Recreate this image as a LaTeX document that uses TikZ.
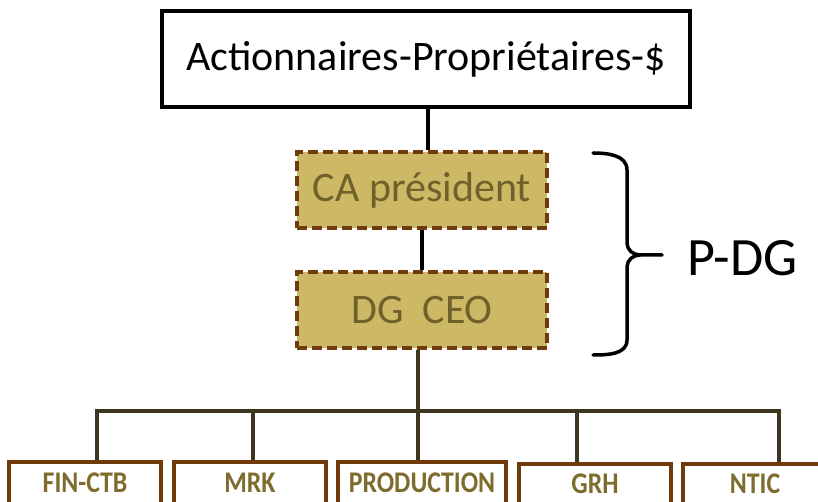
\documentclass[tikz,border=0pt]{standalone}
\usepackage{fontspec}
\setmainfont{Carlito}
\definecolor{goldfill}{RGB}{205,184,102}
\definecolor{brownedge}{RGB}{112,58,10}
\definecolor{olivetext}{RGB}{112,97,42}
\definecolor{labeltext}{RGB}{125,108,45}
\definecolor{busline}{RGB}{62,54,30}
\newcommand{\narrowlabel}[1]{\scalebox{0.86}[1]{#1}}
\tikzset{
  topbox/.style={draw=black, line width=4pt, fill=white, inner sep=0pt,
    minimum width=528pt, minimum height=96pt, font=\fontsize{42}{48}\selectfont},
  goldbox/.style={draw=brownedge, fill=goldfill, line width=3.5pt, dash pattern=on 10pt off 5pt,
    inner sep=0pt, minimum width=250pt, minimum height=76pt, text=olivetext,
    font=\fontsize{42}{48}\selectfont},
  deptbox/.style={draw=brownedge, fill=white, line width=4pt, inner sep=0pt,
    text=labeltext, font=\fontsize{30}{34}\selectfont\bfseries},
  blackline/.style={draw=black, line width=3.5pt},
  busstyle/.style={draw=busline, line width=3.5pt},
  bracestyle/.style={draw=black, line width=3.5pt, line cap=round, line join=round}
}
\begin{document}
\begin{tikzpicture}[x=1pt,y=-1pt]
\useasboundingbox (0,0) rectangle (818,502);
\node[topbox] (top) at (426,59) {Actionnaires-Propriétaires-\$};
\node[goldbox] (ca) at (422,190) {\raisebox{-2pt}{CA président}};
\node[goldbox] (dg) at (422,310) {\raisebox{-2pt}{DG~~CEO}};
\node[deptbox, minimum width=152pt, minimum height=42pt] (fin) at (85,483) {\narrowlabel{FIN-CTB}};
\node[deptbox, minimum width=152pt, minimum height=42pt] (mrk) at (250,483) {\narrowlabel{MRK}};
\node[deptbox, minimum width=168pt, minimum height=42pt] (prod) at (422,483) {\narrowlabel{PRODUCTION}};
\node[deptbox, minimum width=152pt, minimum height=40pt] (grh) at (595,484) {\narrowlabel{GRH}};
\node[deptbox, minimum width=144pt, minimum height=40pt] (ntic) at (755,484) {\narrowlabel{NTIC}};
\node[font=\fontsize{54}{60}\selectfont, anchor=west] (pdg) at (684,258) {P-DG};

\draw[blackline] (top.south -| 428,0) -- (ca.north -| 428,0);
\draw[blackline] (ca.south) -- (dg.north);

\coordinate (hub) at (418,411);
\coordinate (b1) at (97,411);
\coordinate (b2) at (253,411);
\coordinate (b4) at (577,411);
\coordinate (b5) at (779,411);
\draw[busstyle] (dg.south -| hub) -- (hub);
\draw[busstyle, line cap=rect] (b1) -- (b5);
\draw[busstyle] (b1) -- (b1 |- fin.north);
\draw[busstyle] (b2) -- (b2 |- mrk.north);
\draw[busstyle] (hub) -- (hub |- prod.north);
\draw[busstyle] (b4) -- (b4 |- grh.north);
\draw[busstyle] (b5) -- (b5 |- ntic.north);

\coordinate (bt) at (593,153);
\coordinate (bb) at (593,355);
\coordinate (tip) at (662,255);
\draw[bracestyle] (bt) to[out=0,in=90] (627,170) -- (627,243) to[out=-90,in=180] (640,255) -- (tip);
\draw[bracestyle] (bb) to[out=0,in=-90] (627,340) -- (627,267) to[out=90,in=180] (640,255);
\end{tikzpicture}
\end{document}
